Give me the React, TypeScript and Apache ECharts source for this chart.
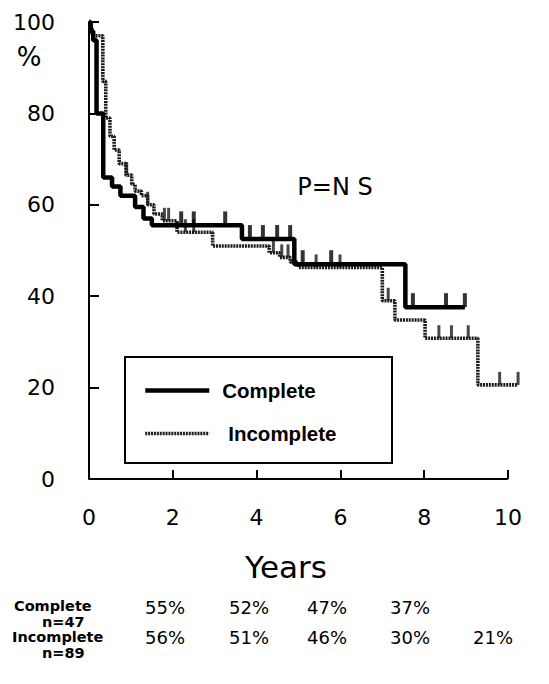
import React, { useEffect, useRef } from "react";
import * as echarts from "echarts";

// ---------- data ----------
const xTickValues = [0, 2, 4, 6, 8, 10];
const yTickValues = [0, 20, 40, 60, 80, 100];

// Kaplan-Meier steps: [years, % surviving from that time on]
const completeSteps: [number, number][] = [
  [0, 100], [0.04, 98], [0.1, 96], [0.18, 80], [0.34, 66], [0.55, 64], [0.75, 62],
  [1.1, 59.5], [1.3, 57], [1.5, 55.5], [3.65, 52.5], [4.9, 47], [7.55, 37.6],
];
const completeEnd = 8.97;
const completeCensored = [2.2, 2.5, 3.25, 3.84, 4.15, 4.49, 4.8, 5.1, 5.78, 7.73, 8.52, 8.97];

const incompleteSteps: [number, number][] = [
  [0, 100], [0.04, 98.5], [0.08, 97], [0.33, 87], [0.4, 79], [0.5, 75], [0.6, 72],
  [0.72, 69], [0.88, 66.5], [1.02, 64.5], [1.1, 63], [1.25, 62], [1.4, 60], [1.55, 58],
  [1.75, 56.5], [2.1, 54], [2.95, 51], [4.3, 49.5], [4.55, 48.5], [4.8, 47.5], [5.0, 46.3],
  [7.0, 39], [7.3, 34.8], [8.02, 30.8], [9.28, 20.6],
];
const incompleteEnd = 10.24;
const incompleteCensored = [0.9, 1.4, 1.8, 1.9, 2.3, 2.5, 4.4, 4.6, 4.75, 5.42, 5.99, 7.14, 8.35, 8.65, 9.05, 9.8, 10.24];

const groupNames = ["Complete", "Incomplete"];
const groupCounts = ["n=47", "n=89"];
const completeTable = ["55%", "52%", "47%", "37%"];
const incompleteTable = ["56%", "51%", "46%", "30%", "21%"];
const pLabel = "P=N S";
const xName = "Years";
const yUnit = "%";

// ---------- helpers ----------
const survivalAt = (steps: [number, number][], t: number) => {
  let s = steps[0][1];
  for (const [x, y] of steps) if (x <= t) s = y;
  return s;
};
const withEnd = (steps: [number, number][], end: number) => [
  ...steps,
  [end, steps[steps.length - 1][1]],
];

const BLACK = "#000";
const DOT = "#1a1a1a";

export default function App() {
  const ref = useRef<HTMLDivElement>(null);

  useEffect(() => {
    if (!ref.current) return;
    const chart = echarts.init(ref.current, undefined, { renderer: "svg" });

    const colX = [165, 249, 327, 410, 493];
    const pctText = (t: string, x: number, y: number) => ({
      type: "text",
      x,
      y,
      style: {
        text: t,
        fill: BLACK,
        fontFamily: "DejaVu Sans",
        fontSize: 18,
        lineHeight: 15,
        align: "center",
        verticalAlign: "middle",
      },
    });
    const nameText = (t: string, x: number, y: number) => ({
      type: "text",
      x,
      y,
      style: {
        text: t,
        fill: BLACK,
        fontFamily: "DejaVu Sans",
        fontWeight: "bold",
        fontSize: 14.5,
        lineHeight: 14,
        align: "left",
        verticalAlign: "middle",
      },
    });

    const graphics: any[] = [
      {
        type: "rect",
        shape: { x: 125, y: 357, width: 267, height: 106 },
        style: { fill: "none", stroke: BLACK, lineWidth: 2 },
        z: 1,
      },
      {
        type: "text",
        x: 29,
        y: 57,
        style: { text: yUnit, fill: BLACK, fontFamily: "DejaVu Sans", fontSize: 26, align: "center", verticalAlign: "middle" },
      },
      {
        type: "text",
        x: 335,
        y: 187,
        style: { text: pLabel, fill: BLACK, fontFamily: "DejaVu Sans", fontSize: 24, align: "center", verticalAlign: "middle" },
      },
      {
        type: "text",
        x: 286,
        y: 567,
        style: { text: xName, fill: BLACK, fontFamily: "DejaVu Sans", fontSize: 31, align: "center", verticalAlign: "middle" },
      },
      nameText(groupNames[0], 14, 606),
      nameText(groupCounts[0], 42, 622),
      nameText(groupNames[1], 12, 637),
      nameText(groupCounts[1], 42, 653),
      ...completeTable.map((t, i) => pctText(t, colX[i], 607)),
      ...incompleteTable.map((t, i) => pctText(t, colX[i], 637)),
    ];

    chart.setOption({
      animation: false,
      backgroundColor: "#fff",
      grid: { left: 89, top: 22, width: 431.6, height: 457, containLabel: false },
      xAxis: {
        type: "value",
        min: 0,
        max: 10.3,
        interval: 2,
        axisLine: { show: false },
        axisTick: {
          show: true,
          inside: true,
          length: 9,
          customValues: xTickValues,
          lineStyle: { color: BLACK, width: 2 },
        },
        axisLabel: {
          customValues: xTickValues,
          margin: 27,
          color: BLACK,
          fontFamily: "DejaVu Sans",
          fontSize: 22,
          formatter: (v: number) => (xTickValues.includes(v) ? String(v) : ""),
        },
        splitLine: { show: false },
      },
      yAxis: {
        type: "value",
        min: 0,
        max: 100,
        interval: 20,
        axisLine: { show: true, lineStyle: { color: BLACK, width: 2 } },
        axisTick: {
          show: true,
          inside: true,
          length: 10,
          customValues: yTickValues,
          lineStyle: { color: BLACK, width: 2 },
        },
        axisLabel: { margin: 34, color: BLACK, fontFamily: "DejaVu Sans", fontSize: 22 },
        splitLine: { show: false },
      },
      legend: {
        orient: "vertical",
        left: 143,
        top: 380,
        padding: 0,
        itemWidth: 64,
        itemHeight: 16,
        itemGap: 22,
        itemStyle: { opacity: 0 },
        lineStyle: { width: "inherit" },
        textStyle: { color: BLACK, fontFamily: "Liberation Sans", fontWeight: "bold", fontSize: 20.5 },
        data: [
          { name: groupNames[0], textStyle: { padding: [0, 0, 0, 8] } },
          { name: groupNames[1], textStyle: { padding: [0, 0, 0, 14] } },
        ],
        selectedMode: false,
      },
      graphic: graphics,
      series: [
        {
          name: groupNames[1],
          type: "line",
          step: "end",
          symbol: "none",
          clip: false,
          z: 2,
          color: DOT,
          lineStyle: { color: DOT, width: 3.6, type: [2, 0.9] },
          data: withEnd(incompleteSteps, incompleteEnd),
        },
        {
          name: "Incomplete censored",
          type: "scatter",
          symbol: "rect",
          symbolSize: [3, 13],
          symbolOffset: [0, "-50%"],
          z: 2,
          itemStyle: { color: DOT },
          data: incompleteCensored.map((t) => [t, survivalAt(incompleteSteps, t)]),
        },
        {
          name: groupNames[0],
          type: "line",
          step: "end",
          symbol: "none",
          clip: false,
          z: 3,
          color: BLACK,
          lineStyle: { color: BLACK, width: 4.5 },
          data: withEnd(completeSteps, completeEnd),
          markLine: {
            silent: true,
            symbol: ["none", "none"],
            label: { show: false },
            lineStyle: { color: BLACK, width: 2, type: "solid" },
            data: [[{ coord: [xTickValues[0], 0] }, { coord: [xTickValues[xTickValues.length - 1], 0] }]],
          },
        },
        {
          name: "Complete censored",
          type: "scatter",
          symbol: "rect",
          symbolSize: [4, 14],
          symbolOffset: [0, "-50%"],
          z: 3,
          itemStyle: { color: BLACK },
          data: completeCensored.map((t) => [t, survivalAt(completeSteps, t)]),
        },
      ],
    });

    return () => chart.dispose();
  }, []);

  return (
    <div
      ref={ref}
      style={{ position: "fixed", left: 0, top: 0, width: 549, height: 684, background: "#fff" }}
    />
  );
}
